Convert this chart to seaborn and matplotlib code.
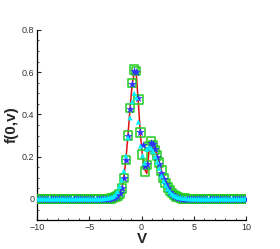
import numpy as np
import pandas as pd
import matplotlib
matplotlib.use("Agg")
import matplotlib.pyplot as plt
from matplotlib.ticker import MultipleLocator, FuncFormatter
import seaborn as sns

# velocity grid (cell centres, step 0.2)
v_left = np.linspace(-9.9, -4.1, 30)
v_core = np.linspace(-3.9, 4.9, 45)
v_right = np.linspace(5.1, 9.9, 25)

# values in the core region (tails are flat zero)
f_line = [0, 0, 0, 0, 0.001, 0.002, 0.003, 0.006, 0.012, 0.022, 0.048, 0.10, 0.185,
          0.30, 0.43, 0.54, 0.597, 0.59, 0.45, 0.30, 0.20, 0.14, 0.12, 0.22, 0.265,
          0.255, 0.232, 0.205, 0.172, 0.135, 0.10, 0.077, 0.055, 0.04, 0.027, 0.018,
          0.012, 0.008, 0.005, 0.003, 0.002, 0.001, 0.001, 0, 0]
f_square = [0, 0, 0, 0.001, 0.001, 0.002, 0.004, 0.008, 0.015, 0.025, 0.05, 0.10, 0.185,
            0.30, 0.43, 0.548, 0.612, 0.605, 0.47, 0.315, 0.21, 0.13, 0.16, 0.25, 0.275,
            0.255, 0.232, 0.205, 0.172, 0.135, 0.10, 0.077, 0.055, 0.04, 0.027, 0.018,
            0.012, 0.008, 0.005, 0.003, 0.002, 0.001, 0.001, 0, 0]
f_star = [0, 0, 0, 0.001, 0.002, 0.003, 0.005, 0.009, 0.016, 0.03, 0.05, 0.10, 0.185,
          0.30, 0.427, 0.545, 0.607, 0.60, 0.478, 0.317, 0.254, 0.155, 0.165, 0.24, 0.267,
          0.26, 0.235, 0.20, 0.165, 0.125, 0.095, 0.07, 0.05, 0.035, 0.024, 0.016,
          0.01, 0.006, 0.004, 0.002, 0.001, 0.001, 0, 0, 0]
f_tri = [0, 0.001, 0.002, 0.003, 0.005, 0.008, 0.012, 0.02, 0.035, 0.06, 0.09, 0.133, 0.204,
         0.29, 0.384, 0.46, 0.50, 0.48, 0.364, 0.25, 0.205, 0.17, 0.235, 0.245, 0.24,
         0.225, 0.20, 0.175, 0.145, 0.11, 0.085, 0.065, 0.047, 0.034, 0.024, 0.017,
         0.012, 0.008, 0.006, 0.004, 0.003, 0.002, 0.001, 0.001, 0]

v = np.concatenate([v_left, v_core, v_right])


def serie(f_core):
    f = np.concatenate([np.zeros(len(v_left)), f_core, np.zeros(len(v_right))])
    return pd.DataFrame({"v": v, "f": f})


sns.set_style("ticks")
plt.rcParams["font.family"] = ["Liberation Sans", "DejaVu Sans"]

fig = plt.figure(figsize=(2.8, 2.49), dpi=100)
ax = fig.add_axes([0.132, 0.116, 0.747, 0.764])

sns.lineplot(data=serie(f_line), x="v", y="f", color="#e01010", lw=1.1, ax=ax, sort=False)
sns.scatterplot(data=serie(f_square), x="v", y="f", marker="s", s=36,
                facecolors="none", edgecolor="#22cc22", linewidth=1.1, ax=ax, zorder=3)
sns.scatterplot(data=serie(f_star), x="v", y="f", marker="*", s=30,
                color="#3030ff", edgecolor="#3030ff", linewidth=0.3, ax=ax, zorder=4)
sns.scatterplot(data=serie(f_tri), x="v", y="f", marker="^", s=14,
                color="#00f0ff", edgecolor="none", ax=ax, zorder=5)

ax.set_xlim(-10, 10)
ax.set_ylim(-0.1, 0.8)
ax.xaxis.set_major_locator(MultipleLocator(5))
ax.xaxis.set_minor_locator(MultipleLocator(1))
ax.yaxis.set_major_locator(MultipleLocator(0.2))
ax.yaxis.set_minor_locator(MultipleLocator(0.05))
ax.yaxis.set_major_formatter(FuncFormatter(lambda y, p: "0" if abs(y) < 1e-9 else f"{y:.1f}"))
ax.tick_params(which="major", direction="in", length=3, width=0.8, labelsize=6.5, pad=2,
               labelcolor="#333333")
ax.tick_params(which="minor", direction="in", length=1.6, width=0.6)
sns.despine(ax=ax)
for s in ["left", "bottom"]:
    ax.spines[s].set_linewidth(0.9)
    ax.spines[s].set_color("black")

ax.set_xlabel("V", fontsize=11, fontweight="bold", labelpad=0)
ax.set_ylabel("f(0,v)", fontsize=11, fontweight="bold", labelpad=2)

fig.savefig("out.png", dpi=100)
